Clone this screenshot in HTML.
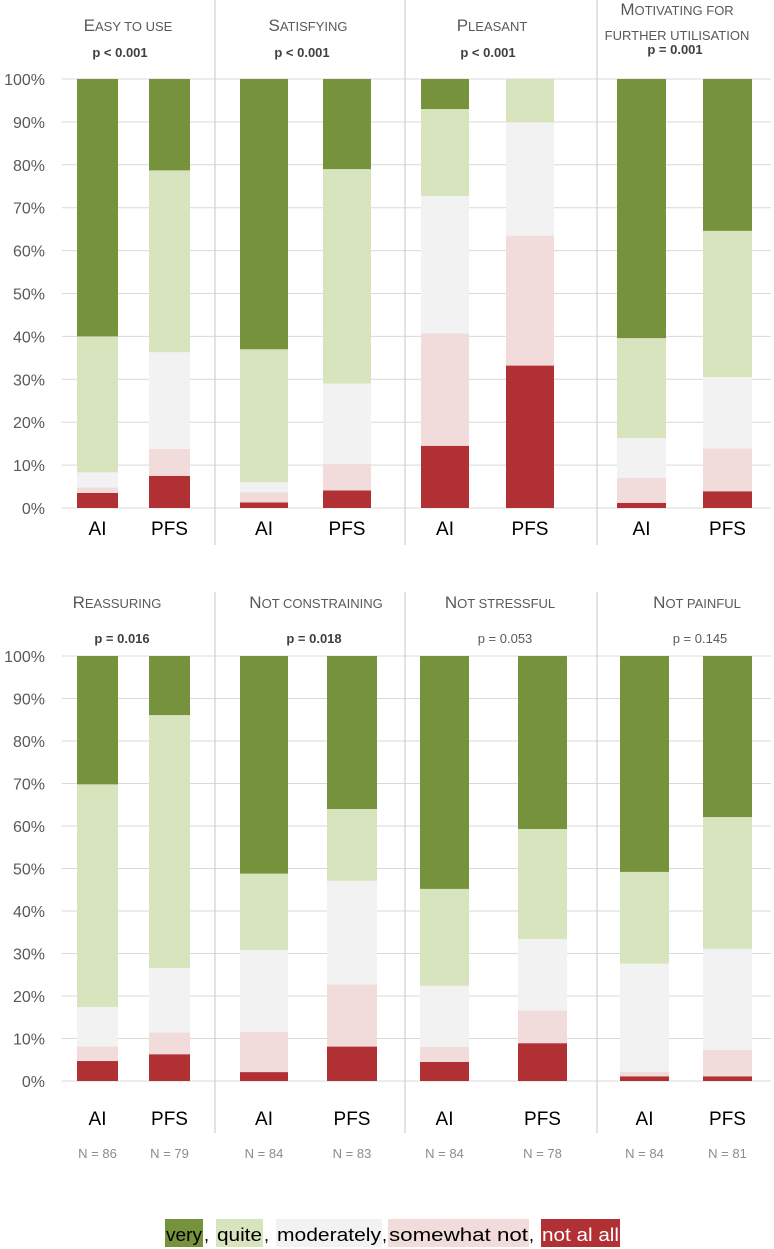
<!DOCTYPE html>
<html><head><meta charset="utf-8"><style>
body{margin:0;background:#fff;}
svg{display:block;font-family:"Liberation Sans",sans-serif;}
</style></head><body>
<svg id="chart" width="774" height="1249" viewBox="0 0 774 1249"></svg>
<script>
const panelTitles=["Easy to use","Satisfying","Pleasant","Motivating for|further utilisation","Reassuring","Not constraining","Not stressful","Not painful"];
const pValues=["p < 0.001","p < 0.001","p < 0.001","p = 0.001","p = 0.016","p = 0.018","p = 0.053","p = 0.145"];
const pBold=[true,true,true,true,true,true,false,false];
const groups=["AI","PFS"];
const nLabels=["N = 86","N = 79","N = 84","N = 83","N = 84","N = 78","N = 84","N = 81"];
// cumulative tops (percent) : not at all, somewhat not, moderately, quite, very
const aiCum=[[3.5,4.8,8.3,40,100],[1.3,3.7,6,37,100],[14.5,40.7,72.7,93,100],[1.2,7,16.3,39.6,100],
 [4.7,8.1,17.4,69.8,100],[2.1,11.6,30.8,48.8,100],[4.5,8,22.4,45.2,100],[1.1,2.2,27.6,49.2,100]];
const pfsCum=[[7.5,13.8,36.3,78.7,100],[4.1,10.3,29,79,100],[33.2,63.5,89.9,100,100],[3.9,13.9,30.5,64.6,100],
 [6.3,11.4,26.6,86.1,100],[8.1,22.7,47.1,64,100],[8.9,16.6,33.4,59.3,100],[1.1,7.3,31.1,62.1,100]];
const ticks=[0,10,20,30,40,50,60,70,80,90,100];
const colors=["#b03034","#f2dcdb","#f2f2f2","#d7e4bd","#76923c"];
const levels=["not-at-all","somewhat-not","moderately","quite","very"];

const NS="http://www.w3.org/2000/svg";
const svg=document.getElementById("chart");
function mk(t,a,p){const e=document.createElementNS(NS,t);for(const k in a)e.setAttribute(k,a[k]);(p||svg).appendChild(e);return e;}

const rows=[{top:79,bot:508,lblY:535,sepTop:0,sepBot:545,titleY:31,pY:57},{top:656,bot:1081,lblY:1125,sepTop:592,sepBot:1133,titleY:608,pY:643}];
const titleCx=[128,308,492,677,117,316,500,697];
const pCx=[120,302,488,675,122,314,505,700];
const barX=[[[77,118],[149,190]],[[240,288],[323,371]],[[421,469],[506,554]],[[617,666],[703,752]],
 [[77,118],[149,190]],[[240,288],[327,377]],[[420,469],[518,567]],[[620,669],[703,752]]];

function smallCaps(parent,str,x,y){
  const t=mk("text",{x:x,y:y,"text-anchor":"middle",fill:"#595959"},parent);
  str.split(" ").forEach((w,wi)=>{
    const lead=wi>0?" ":"";
    const first=w[0];
    const rest=w.slice(1);
    const big=(first===first.toUpperCase());
    const a=mk("tspan",{"font-size":big?17:13},t);a.textContent=lead+first.toUpperCase();
    const b=mk("tspan",{"font-size":13},t);b.textContent=rest.toUpperCase();
  });
  return t;
}

for(let r=0;r<2;r++){
  const R=rows[r];
  const y=v=>R.bot-(R.bot-R.top)*v/100;
  ticks.forEach(t=>{
    const g=mk("line",{x1:62,x2:771,y1:y(t),y2:y(t),stroke:"#d9d9d9","stroke-width":1});
    
    
    const tl=mk("text",{x:45,y:y(t)+6,"text-anchor":"end","font-size":16,fill:"#595959"});
    tl.textContent=t+"%";
    
    
  });
  [215,405,597].forEach(sx=>{
    const s=mk("line",{x1:sx,x2:sx,y1:R.sepTop,y2:R.sepBot,stroke:"#d0d0d0","stroke-width":1.2});
    
    
  });
  for(let c=0;c<4;c++){
    const i=r*4+c;
    const parts=panelTitles[i].split("|");
    parts.forEach((ln,k)=>{
      const tt=smallCaps(svg,ln,titleCx[i],parts.length>1?15+k*25:R.titleY);
      
      
    });
    const pt=mk("text",{x:pCx[i],y:(i==3?54:R.pY),"text-anchor":"middle","font-size":13,fill:pBold[i]?"#404040":"#595959","font-weight":pBold[i]?"bold":"normal"});
    pt.textContent=pValues[i];
    
    
    [aiCum[i],pfsCum[i]].forEach((cum,g)=>{
      const [x0,x1]=barX[i][g];
      let prev=0;
      cum.forEach((v,s)=>{
        if(v>prev){
          const b=mk("rect",{x:x0,width:x1-x0,y:y(v),height:y(prev)-y(v),fill:colors[s]});
          
          
        }
        prev=v;
      });
      const gl=mk("text",{x:(x0+x1)/2,y:R.lblY,"text-anchor":"middle","font-size":19,fill:"#000"});
      gl.textContent=groups[g];
      
      
      if(r==1){
        const nl=mk("text",{x:(x0+x1)/2,y:1158,"text-anchor":"middle","font-size":13,fill:"#8c8c8c"});
        nl.textContent=nLabels[c*2+g];
        
        
      }
    });
  }
}
// legend
const legItems=[["very","#76923c","#000",165,203],["quite","#d7e4bd","#000",216,263],["moderately","#f2f2f2","#000",276,382],["somewhat not","#f2dcdb","#000",388,529],["not al all","#b03034","#fff",541,620]];
const seps=[205,265,383,530];
const lg=mk("g",{});


legItems.forEach(it=>{
  const rc=mk("rect",{x:it[3],y:1219,width:it[4]-it[3],height:28,fill:it[1]},lg);
  
  
  const t=mk("text",{x:it[3]+1,y:1241,"font-size":18,fill:it[2],textLength:it[4]-it[3]-2,lengthAdjust:"spacingAndGlyphs"},lg);
  t.textContent=it[0];
  
  
});
seps.forEach(s=>{const t=mk("text",{x:s-1,y:1241,"font-size":18,fill:"#000"},lg);t.textContent=",";
  
  });
</script>
</body></html>
